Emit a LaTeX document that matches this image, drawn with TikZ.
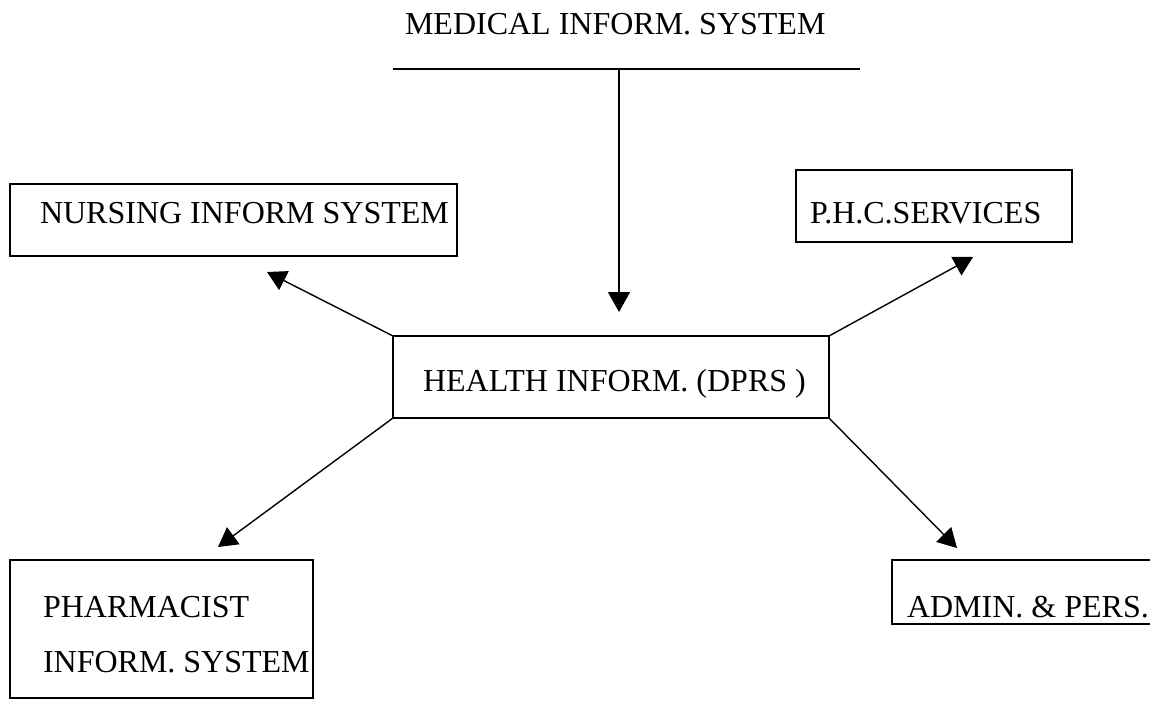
\documentclass[tikz,border=0pt]{standalone}
\usepackage{fontspec}
\setmainfont{Liberation Serif}
\usetikzlibrary{arrows.meta}
\begin{document}
\begin{tikzpicture}[x=1pt,y=-1pt,
  every node/.style={font=\fontsize{32}{38}\selectfont, inner sep=0pt, outer sep=0pt},
  box/.style={draw, line width=1.3pt, rectangle, anchor=north west},
  label/.style={anchor=base west},
  link/.style={line width=1.4pt},
  flow/.style={line width=1.4pt, -{Triangle[length=19pt,width=21pt]}}]
\useasboundingbox (0,0) rectangle (1150,701);
\fill[white] (0,0) rectangle (1150,701);

% top source: title over a rule
\node[label] (medT) at (405,35) {MEDICAL INFORM. SYSTEM};
\coordinate (ruleL) at (393,69);
\coordinate (ruleR) at (860,69);
\coordinate (ruleM) at (619,69);
\draw[link] (ruleL) -- (ruleR);

% boxes
\node[box, minimum width=447, minimum height=72] (nurs) at (10,184) {};
\node[label] (nursT) at (40,223) {NURSING INFORM SYSTEM};

\node[box, minimum width=276, minimum height=72] (phc) at (796,170) {};
\node[label] (phcT) at (810,223) {P.H.C.SERVICES};

\node[box, minimum width=436, minimum height=82] (hlth) at (393,336) {};
\node[label] (hlthT) at (423,391) {HEALTH INFORM. (DPRS )};

\node[box, minimum width=303, minimum height=138] (phar) at (10,560) {};
\node[label] (pharT1) at (43,617) {PHARMACIST};
\node[label] (pharT2) at (43,672) {INFORM. SYSTEM};

\node[box, minimum width=262, minimum height=64] (adm) at (892,560) {};
\node[label] (admT) at (907,617) {ADMIN. \& PERS.};

% arrow tips
\coordinate (tipMed) at (619,312);
\coordinate (tipNurs) at (267,272);
\coordinate (tipPhc) at (973,257);
\coordinate (tipPhar) at (218,547);
\coordinate (tipAdm) at (957,548);

% connectors
\draw[flow, -{Triangle[length=20pt,width=22pt]}] (ruleM) -- (tipMed);
\draw[flow] (hlth.north west) -- (tipNurs);
\draw[flow] (hlth.north east) -- (tipPhc);
\draw[flow] (hlth.south west) -- (tipPhar);
\draw[flow] (hlth.south east) -- (tipAdm);
\end{tikzpicture}
\end{document}
